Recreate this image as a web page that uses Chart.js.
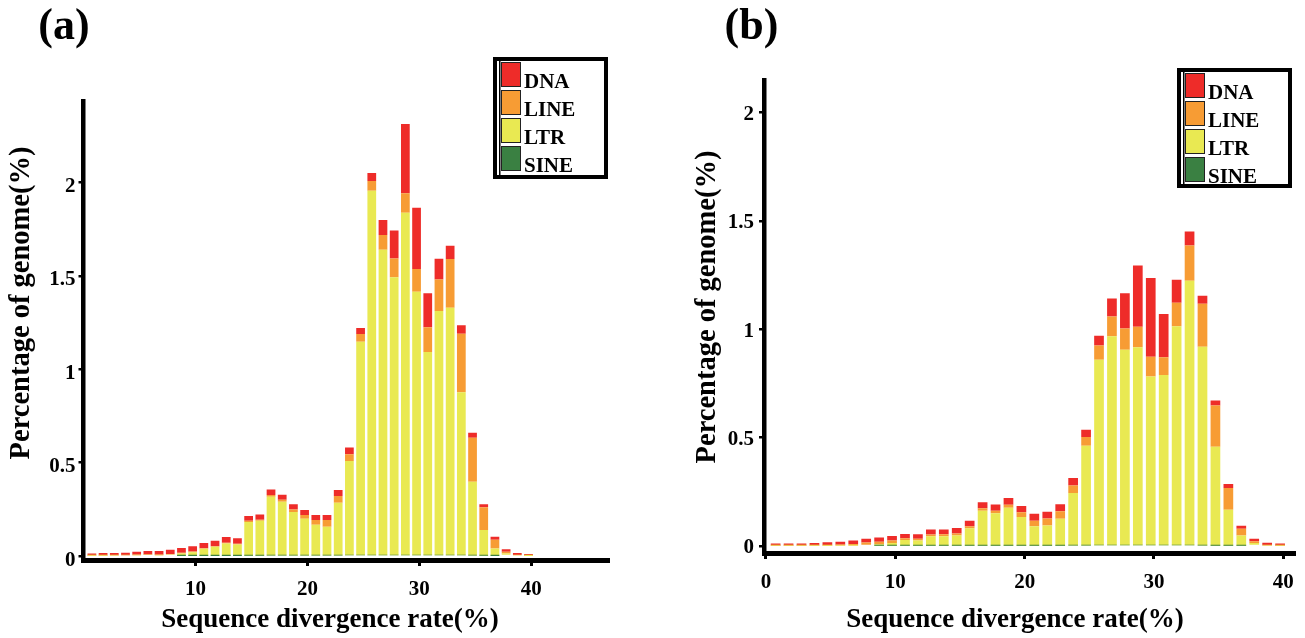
<!DOCTYPE html>
<html>
<head>
<meta charset="utf-8">
<title>Sequence divergence of TEs</title>
<script src="https://cdn.jsdelivr.net/npm/chart.js@4.4.1/dist/chart.umd.min.js"></script>
<style>
  html, body { margin: 0; padding: 0; background: #fff; }
  body { width: 1305px; height: 638px; position: relative; overflow: hidden; }
  canvas { position: absolute; top: 0; }
  #panelA { left: 0; }
  #panelB { left: 650px; }
</style>
</head>
<body>
<canvas id="panelA" width="650" height="638"></canvas>
<canvas id="panelB" width="655" height="638"></canvas>
<script>
// divergence bins (%), one bar per bin
const divergence = [0, 1, 2, 3, 4, 5, 6, 7, 8, 9, 10, 11, 12, 13, 14, 15, 16, 17, 18, 19,
                    20, 21, 22, 23, 24, 25, 26, 27, 28, 29, 30, 31, 32, 33, 34, 35, 36, 37, 38, 39];
const binOffset = 0.75;   // bars sit a little right of the bin start

// panel (a), percentage of genome
const aSINE = [0, 0, 0, 0, 0, 0, 0, 0, 0.001, 0.001, 0.001, 0.001, 0.001, 0.001, 0.002, 0.002, 0.003, 0.003, 0.003, 0.003,
               0.003, 0.003, 0.003, 0.004, 0.005, 0.005, 0.005, 0.005, 0.005, 0.005, 0.005, 0.005, 0.005, 0.004, 0.003, 0.002, 0.001, 0, 0, 0];
const aLTR  = [0.002, 0.002, 0.003, 0.004, 0.005, 0.006, 0.005, 0.009, 0.013, 0.020, 0.038, 0.049, 0.067, 0.061, 0.180, 0.187, 0.315, 0.288, 0.233, 0.197,
               0.165, 0.154, 0.283, 0.505, 1.143, 1.952, 1.636, 1.488, 1.834, 1.411, 1.088, 1.308, 1.325, 0.873, 0.395, 0.137, 0.040, 0.014, 0.004, 0.001];
const aLINE = [0.001, 0.001, 0.001, 0.001, 0.002, 0.002, 0.002, 0.002, 0.004, 0.004, 0.003, 0.003, 0.004, 0.004, 0.007, 0.005, 0.009, 0.011, 0.014, 0.020,
               0.025, 0.036, 0.036, 0.036, 0.041, 0.052, 0.079, 0.100, 0.104, 0.121, 0.132, 0.168, 0.261, 0.314, 0.236, 0.123, 0.046, 0.009, 0.002, 0.001];
const aDNA  = [0.011, 0.013, 0.012, 0.013, 0.016, 0.019, 0.020, 0.023, 0.025, 0.027, 0.028, 0.029, 0.030, 0.029, 0.025, 0.029, 0.030, 0.027, 0.027, 0.027,
               0.027, 0.027, 0.032, 0.036, 0.032, 0.043, 0.080, 0.150, 0.371, 0.329, 0.182, 0.111, 0.071, 0.045, 0.027, 0.016, 0.016, 0.014, 0.010, 0.009];

// panel (b), percentage of genome
const bSINE = [0, 0, 0, 0, 0, 0, 0, 0, 0.001, 0.001, 0.001, 0.001, 0.001, 0.001, 0.001, 0.002, 0.002, 0.002, 0.002, 0.002,
               0.002, 0.002, 0.002, 0.003, 0.003, 0.004, 0.004, 0.004, 0.004, 0.004, 0.004, 0.004, 0.004, 0.003, 0.002, 0.001, 0.001, 0, 0, 0];
const bLTR  = [0.001, 0.001, 0.001, 0.002, 0.002, 0.003, 0.003, 0.006, 0.007, 0.013, 0.027, 0.025, 0.044, 0.044, 0.048, 0.080, 0.161, 0.150, 0.175, 0.132,
               0.089, 0.093, 0.124, 0.242, 0.460, 0.856, 0.964, 0.902, 0.914, 0.779, 0.785, 1.011, 1.221, 0.917, 0.456, 0.167, 0.048, 0.014, 0.003, 0.001];
const bLINE = [0.001, 0.001, 0.001, 0.001, 0.002, 0.003, 0.006, 0.011, 0.012, 0.012, 0.008, 0.008, 0.008, 0.009, 0.009, 0.009, 0.011, 0.011, 0.014, 0.022,
               0.026, 0.032, 0.035, 0.035, 0.040, 0.066, 0.092, 0.098, 0.094, 0.091, 0.082, 0.108, 0.162, 0.198, 0.191, 0.100, 0.031, 0.008, 0.001, 0];
const bDNA  = [0.010, 0.010, 0.010, 0.011, 0.014, 0.014, 0.017, 0.017, 0.020, 0.020, 0.020, 0.020, 0.023, 0.022, 0.025, 0.026, 0.028, 0.029, 0.031, 0.029,
               0.032, 0.031, 0.032, 0.034, 0.034, 0.045, 0.082, 0.163, 0.283, 0.363, 0.200, 0.106, 0.065, 0.037, 0.023, 0.018, 0.014, 0.012, 0.011, 0.011];

const yTicks  = [0, 0.5, 1, 1.5, 2];
const xTicksA = [10, 20, 30, 40];
const xTicksB = [0, 10, 20, 30, 40];

const stackOrder  = ['SINE', 'LTR', 'LINE', 'DNA'];   // bottom to top
const legendOrder = ['DNA', 'LINE', 'LTR', 'SINE'];
const COLORS = {
  DNA:  'rgb(238, 44, 41)',
  LINE: 'rgb(247, 156, 52)',
  LTR:  'rgb(233, 233, 82)',
  SINE: 'rgb(58, 128, 66)'
};

const FONT = 'Liberation Serif';
Chart.defaults.font.family = FONT;
Chart.defaults.color = '#000';

// panel label, axis titles and the boxed legend
const decorPlugin = {
  id: 'decor',
  afterDraw(chart, args, o) {
    const ctx = chart.ctx;
    ctx.save();
    ctx.fillStyle = '#000';

    ctx.font = 'bold 44px "' + FONT + '"';
    ctx.textAlign = 'center';
    ctx.textBaseline = 'middle';
    ctx.fillText(o.label, o.labelX, o.labelY);

    ctx.font = 'bold 27px "' + FONT + '"';
    ctx.fillText(o.xTitle, o.xTitleX, o.xTitleY);

    ctx.save();
    ctx.translate(o.yTitleX, o.yTitleY);
    ctx.rotate(-Math.PI / 2);
    ctx.font = 'bold 28.5px "' + FONT + '"';
    ctx.fillText(o.yTitle, 0, 0);
    ctx.restore();

    // legend box
    const b = o.legend;
    ctx.lineWidth = 4;
    ctx.strokeStyle = '#000';
    ctx.strokeRect(b.x + 2, b.y + 2, b.w - 4, b.h - 4);
    ctx.beginPath();
    ctx.rect(b.x + 4, b.y + 4, b.w - 8, b.h - 8);
    ctx.clip();
    ctx.fillRect(b.x + 6, b.y + 4, 1.5, b.h - 8);

    const byLabel = {};
    chart.data.datasets.forEach(ds => { byLabel[ds.label] = ds.backgroundColor; });
    ctx.font = 'bold 21px "' + FONT + '"';
    ctx.textAlign = 'left';
    ctx.textBaseline = 'alphabetic';
    legendOrder.forEach((name, k) => {
      const sy = b.y + 6 + k * 28;
      ctx.fillStyle = '#222';
      ctx.fillRect(b.x + 8, sy - 1, 20, 25);
      ctx.fillStyle = byLabel[name];
      ctx.fillRect(b.x + 9, sy, 18, 23);
      ctx.fillStyle = '#000';
      ctx.fillText(name, b.x + 31, sy + 11.5 + 13);
    });
    ctx.restore();
  }
};

function buildPanel(canvasId, series, p) {
  const datasets = stackOrder.map(name => ({
    label: name,
    data: divergence.map((d, i) => ({ x: d + binOffset, y: series[name][i] })),
    backgroundColor: COLORS[name],
    borderWidth: 0,
    barPercentage: p.barPct,
    categoryPercentage: 1
  }));

  const tickFont = { family: FONT, weight: 'bold', size: 21 };

  return new Chart(document.getElementById(canvasId), {
    type: 'bar',
    data: { datasets },
    plugins: [decorPlugin],
    options: {
      responsive: false,
      animation: false,
      layout: { padding: p.padding },
      plugins: {
        legend: { display: false },
        tooltip: { enabled: false },
        decor: p.decor
      },
      scales: {
        x: {
          type: 'linear',
          stacked: true,
          offset: false,
          min: p.xMin,
          max: p.xMax,
          afterBuildTicks: s => { s.ticks = p.xTicks.map(v => ({ value: v })); },
          afterFit: s => { s.height = p.xAxisHeight; },
          grid: { offset: false, drawOnChartArea: false, drawTicks: true, tickLength: 6, color: '#000', lineWidth: 3 },
          border: { display: true, color: '#000', width: 5 },
          ticks: { font: tickFont, color: '#000', padding: 11, maxRotation: 0, autoSkip: false, callback: v => String(v) }
        },
        y: {
          stacked: true,
          min: p.yMin,
          max: p.yMax,
          afterBuildTicks: s => { s.ticks = yTicks.map(v => ({ value: v })); },
          afterFit: s => { s.width = p.yAxisWidth; },
          grid: { drawOnChartArea: false, drawTicks: true, tickLength: 5, color: '#000', lineWidth: 2.5 },
          border: { display: true, color: '#000', width: 4.5 },
          ticks: { font: tickFont, color: '#000', padding: p.yTickPad, labelOffset: p.yLabelOffset, autoSkip: false, callback: v => String(v) }
        }
      }
    }
  });
}

buildPanel('panelA', { SINE: aSINE, LTR: aLTR, LINE: aLINE, DNA: aDNA }, {
  padding: { left: 0, top: 101, right: 42, bottom: 0 },
  yAxisWidth: 83.5,
  xAxisHeight: 78,
  xMin: 0, xMax: 46.85,
  yMin: -0.021, yMax: 2.437,
  xTicks: xTicksA,
  barPct: 0.78,
  yTickPad: 3,
  yLabelOffset: 4,
  decor: {
    label: '(a)', labelX: 64, labelY: 28,
    xTitle: 'Sequence divergence rate(%)', xTitleX: 330, xTitleY: 620,
    yTitle: 'Percentage of genome(%)', yTitleX: 22, yTitleY: 303,
    legend: { x: 493, y: 57, w: 115, h: 122 }
  }
});

buildPanel('panelB', { SINE: bSINE, LTR: bLTR, LINE: bLINE, DNA: bDNA }, {
  padding: { left: 0, top: 80, right: 8, bottom: 0 },
  yAxisWidth: 114,
  xAxisHeight: 85,
  xMin: -0.15, xMax: 40.85,
  yMin: -0.032, yMax: 2.151,
  xTicks: xTicksB,
  barPct: 0.75,
  yTickPad: 5,
  yLabelOffset: 2,
  decor: {
    label: '(b)', labelX: 101.5, labelY: 28,
    xTitle: 'Sequence divergence rate(%)', xTitleX: 365, xTitleY: 620,
    yTitle: 'Percentage of genome(%)', yTitleX: 58, yTitleY: 307,
    legend: { x: 527, y: 68, w: 115, h: 120 }
  }
});
</script>
</body>
</html>
